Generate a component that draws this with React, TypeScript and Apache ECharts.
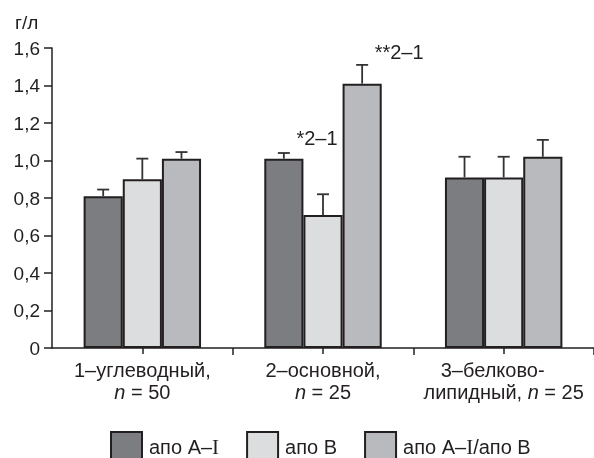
import React, { useEffect, useRef } from "react";
import * as echarts from "echarts";

const categories = ["1–углеводный,\n{i|n} = 50", "2–основной,\n{i|n} = 25", "{r|3–белково-}\nлипидный, {i|n} = 25"];
const seriesNames = ["апо A–I", "апо B", "апо A–I/апо B"];
const apoA1 = [0.81, 1.01, 0.91];
const apoB = [0.9, 0.71, 0.91];
const ratio = [1.01, 1.41, 1.02];
const errA1 = [0.035, 0.03, 0.11];
const errB = [0.11, 0.11, 0.11];
const errRatio = [0.035, 0.1, 0.09];
const yTicks = [0, 0.2, 0.4, 0.6, 0.8, 1.0, 1.2, 1.4, 1.6];
// annotations: [category index, series index, text]
const annotations: [number, number, string][] = [
  [1, 1, "*2–1"],
  [1, 2, "**2–1"],
];

const colors = ["#7c7d81", "#dcdddf", "#b9babd"];
const INK = "#231f20";
const FONT = "'Liberation Sans', Arial, sans-serif";
const GAP = 0.35;

export default function App() {
  const ref = useRef<HTMLDivElement>(null);
  useEffect(() => {
    if (!ref.current) return;
    const chart = echarts.init(ref.current, undefined, { renderer: "svg" });
    const values = [apoA1, apoB, ratio];
    const errs = [errA1, errB, errRatio];
    const annotOffsets: Record<string, [number, number]> = {
      "1-1": [-6, -62],
      "1-2": [37, -17],
    };
    const barSeries = values.map((arr, s) => ({
      name: seriesNames[s],
      type: "bar",
      barGap: "0%",
      barCategoryGap: "35%",
      itemStyle: { color: colors[s], borderColor: INK, borderWidth: 2 },
      z: 3,
      data: arr.map((v, c) => {
        const a = annotations.find((x) => x[0] === c && x[1] === s);
        if (!a) return v;
        return {
          value: v,
          label: {
            show: true,
            position: "top",
            formatter: a[2],
            offset: annotOffsets[`${c}-${s}`] || [0, 0],
            fontSize: 20,
            fontFamily: FONT,
            color: INK,
          },
        };
      }),
    }));
    const errData: number[][] = [];
    values.forEach((arr, s) => arr.forEach((v, c) => errData.push([c, s, v, errs[s][c]])));

    chart.setOption({
      animation: false,
      textStyle: { fontFamily: FONT },
      title: {
        text: "г/л",
        left: 10,
        top: 8,
        textStyle: { fontSize: 19, fontWeight: "normal", color: INK, fontFamily: FONT },
      },
      grid: { left: 52, right: 0, top: 48, bottom: 110 },
      legend: {
        data: seriesNames,
        left: 110,
        top: 431,
        padding: 0,
        itemWidth: 31,
        itemHeight: 30,
        itemGap: 27,
        icon: "rect",
        textStyle: {
          fontSize: 20,
          color: INK,
          fontFamily: FONT,
          padding: [0, 0, 0, 2],
          rich: { s: { fontFamily: "'Liberation Serif', 'Times New Roman', serif", fontSize: 21, color: INK } },
        },
        formatter: (name: string) => name.replace(/I/g, "{s|I}"),
      },
      xAxis: [
        {
          type: "category",
          data: categories,
          axisLine: { lineStyle: { color: INK, width: 1.5 } },
          axisTick: { show: true, length: 7, interval: (i: number) => i !== 0, lineStyle: { color: INK, width: 1.5 } },
          axisLabel: {
            interval: 0,
            margin: 11,
            fontSize: 20,
            lineHeight: 22,
            color: INK,
            fontFamily: FONT,
            rich: {
              i: { fontStyle: "italic", fontSize: 20, color: INK, fontFamily: FONT },
              r: { fontSize: 20, color: INK, fontFamily: FONT, padding: [0, 22, 0, 0] },
            },
          },
        },
        {
          type: "category",
          data: categories,
          position: "bottom",
          axisLine: { show: false },
          axisTick: { show: true, alignWithLabel: true, length: 6, lineStyle: { color: INK, width: 1.5 } },
          axisLabel: { show: false },
        },
      ],
      yAxis: {
        type: "value",
        min: 0,
        max: 1.6,
        interval: 0.2,
        splitLine: { show: false },
        axisLine: { show: true, lineStyle: { color: INK, width: 1.5 } },
        axisTick: { show: true, length: 8, lineStyle: { color: INK, width: 1.5 } },
        axisLabel: {
          margin: 12,
          fontSize: 19,
          color: INK,
          fontFamily: FONT,
          formatter: (v: number) => {
            const t = yTicks.find((x) => Math.abs(x - v) < 1e-6);
            if (t === undefined) return "";
            return t === 0 ? "0" : t.toFixed(1).replace(".", ",");
          },
        },
      },
      series: [
        ...barSeries,
        {
          type: "custom",
          z: 2,
          encode: { x: 0, y: 2 },
          data: errData,
          renderItem: (params: any, api: any) => {
            const c = api.value(0);
            const s = api.value(1);
            const v = api.value(2);
            const e = api.value(3);
            const band = api.size([1, 0])[0];
            const bw = (band * (1 - GAP)) / 3;
            const cx = api.coord([c, 0])[0] + (s - 1) * bw;
            const y0 = api.coord([c, v])[1];
            const y1 = api.coord([c, v + e])[1];
            const st = { stroke: "#333", lineWidth: 1.8 };
            return {
              type: "group",
              children: [
                { type: "line", shape: { x1: cx, y1: y0, x2: cx, y2: y1 }, style: st },
                { type: "line", shape: { x1: cx - 6, y1: y1, x2: cx + 6, y2: y1 }, style: st },
              ],
            };
          },
        },
      ],
    });
    return () => chart.dispose();
  }, []);
  return <div ref={ref} style={{ position: "fixed", left: 0, top: 0, width: 594, height: 458 }} />;
}
